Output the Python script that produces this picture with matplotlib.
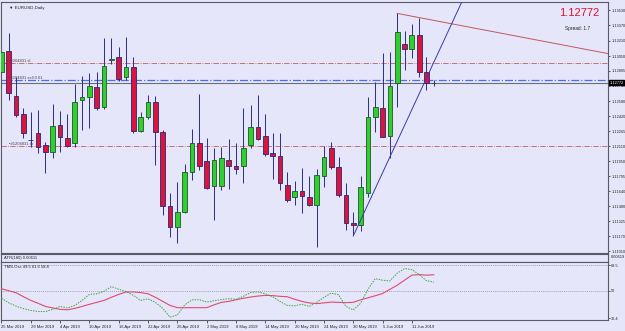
import matplotlib
matplotlib.use('Agg')
import matplotlib.pyplot as plt
import numpy as np

plt.rcParams['font.family'] = ['Liberation Sans', 'DejaVu Sans']

symbol_title = "EURUSD,Daily"
date_labels = ["25 Mar 2019", "29 Mar 2019", "4 Apr 2019", "10 Apr 2019", "16 Apr 2019",
               "22 Apr 2019", "26 Apr 2019", "2 May 2019", "8 May 2019", "14 May 2019",
               "20 May 2019", "24 May 2019", "30 May 2019", "5 Jun 2019", "11 Jun 2019"]

opens = [1.12886, 1.13105, 1.12632, 1.12444, 1.12178, 1.12251, 1.12121, 1.12047, 1.12330, 1.12194,
         1.12142, 1.12591, 1.12622, 1.12726, 1.12517, 1.13008, 1.13040, 1.12826, 1.12935, 1.12272,
         1.12408, 1.12570, 1.12256, 1.11484, 1.11264, 1.11421, 1.11839, 1.12142, 1.11954, 1.11692,
         1.11692, 1.11964, 1.11901, 1.11901, 1.12121, 1.12309, 1.12215, 1.12037, 1.12006, 1.11703,
         1.11577, 1.11640, 1.11577, 1.11494, 1.11797, 1.12089, 1.11891, 1.11598, 1.11306, 1.11285,
         1.11619, 1.12413, 1.12507, 1.12215, 1.12768, 1.13175, 1.13123, 1.13269, 1.12883, 1.12768]
highs = [1.13269, 1.13290, 1.12831, 1.12507, 1.12465, 1.12486, 1.12152, 1.12549, 1.12476, 1.12444,
         1.12758, 1.12841, 1.12873, 1.12883, 1.13238, 1.13238, 1.13144, 1.13249, 1.13040, 1.12465,
         1.12643, 1.12632, 1.12277, 1.11619, 1.11734, 1.11922, 1.12288, 1.12653, 1.12194, 1.12089,
         1.12100, 1.12183, 1.12142, 1.12507, 1.12538, 1.12643, 1.12444, 1.12246, 1.12246, 1.11839,
         1.11745, 1.11880, 1.11797, 1.11870, 1.12110, 1.12152, 1.11995, 1.11724, 1.11421, 1.11797,
         1.12622, 1.12779, 1.13081, 1.13097, 1.13499, 1.13311, 1.13384, 1.13447, 1.13040, 1.12800]
lows = [1.12852, 1.12590, 1.12413, 1.12194, 1.12100, 1.12037, 1.11828, 1.11985, 1.12047, 1.12100,
        1.12100, 1.12277, 1.12298, 1.12486, 1.12497, 1.12967, 1.12789, 1.12799, 1.12246, 1.12256,
        1.12392, 1.11912, 1.11389, 1.11160, 1.11097, 1.11410, 1.11755, 1.11859, 1.11661, 1.11337,
        1.11651, 1.11661, 1.11818, 1.11724, 1.12089, 1.12173, 1.12006, 1.11765, 1.11651, 1.11525,
        1.11494, 1.11410, 1.11484, 1.11055, 1.11682, 1.11870, 1.11577, 1.11233, 1.11181, 1.11222,
        1.11577, 1.12256, 1.12204, 1.11990, 1.12517, 1.12904, 1.13029, 1.12831, 1.12695, 1.12740]
closes = [1.13095, 1.12661, 1.12434, 1.12241, 1.12170, 1.12100, 1.12047, 1.12324, 1.12204, 1.12115,
          1.12570, 1.12622, 1.12737, 1.12507, 1.12946, 1.13014, 1.12805, 1.12935, 1.12267, 1.12413,
          1.12570, 1.12259, 1.11484, 1.11264, 1.11416, 1.11839, 1.12142, 1.11901, 1.11671, 1.11964,
          1.11985, 1.11901, 1.11870, 1.12089, 1.12309, 1.12183, 1.12027, 1.12006, 1.11724, 1.11546,
          1.11640, 1.11588, 1.11494, 1.11807, 1.11995, 1.11891, 1.11598, 1.11306, 1.11285, 1.11682,
          1.12413, 1.12517, 1.12204, 1.12737, 1.13301, 1.13123, 1.13269, 1.12883, 1.12768, 1.12772]

tms_red = [51.6, 50.2, 48.7, 45.9, 43.3, 41.2, 39.0, 37.9, 36.9, 36.6,
           37.6, 39.0, 40.5, 41.9, 43.3, 45.5, 47.6, 49.3, 49.3, 48.9,
           48.0, 45.5, 42.6, 39.7, 38.1, 38.1, 38.1, 38.1, 38.1, 40.1,
           41.9, 42.6, 43.7, 44.8, 45.7, 46.4, 46.9, 46.7, 46.2, 45.9,
           44.1, 42.6, 41.5, 41.0, 41.5, 42.1, 41.9, 41.7, 41.9, 43.7,
           45.1, 46.6, 48.2, 51.2, 54.1, 57.7, 61.3, 61.7, 61.3, 61.6]
tms_green = [44.8, 41.5, 39.2, 37.4, 36.1, 35.4, 35.3, 36.9, 39.0, 37.9,
             39.7, 43.3, 47.6, 48.0, 49.8, 53.2, 51.2, 49.6, 46.9, 43.3,
             44.4, 41.9, 37.6, 31.3, 32.9, 40.1, 43.7, 43.8, 42.1, 43.0,
             43.9, 44.5, 44.1, 46.2, 48.9, 49.4, 48.0, 45.9, 42.6, 39.7,
             39.4, 40.5, 39.0, 41.9, 45.5, 48.5, 47.3, 39.0, 36.5, 41.2,
             51.2, 58.8, 57.7, 57.2, 62.7, 66.0, 65.3, 61.7, 57.4, 56.3]

price_ticks = [1.13530, 1.13370, 1.13210, 1.13050, 1.12895, 1.12740, 1.12580, 1.12420, 1.12265,
               1.12110, 1.11950, 1.11795, 1.11640, 1.11480, 1.11325, 1.11170, 1.11010]
tms_levels = [68.5, 50.0, 30.4]

bid_price = 1.12772
spread_text = "Spread: 1.7"
order_sl = 1.12980
order_open = 1.12800
order_tp = 1.12110
order_labels = ["#204831 sl", "#204831 sell 0.01", "#1204831 tp"]
trend_red_x = [54, 82.8]
trend_red_y = [1.13495, 1.13075]
trend_blue_x = [48, 63]
trend_blue_y = [1.11170, 1.13645]
atr_label = "ATR(180) 0.00611"
atr_right = "0.00619"
tms_label = "TMS-Osc 49.5 61.6 58.8"

BG = '#e6e6fa'
SP = '#5a5a66'
W, H = 625, 331
fig = plt.figure(figsize=(W / 100, H / 100), dpi=100, facecolor=BG)

def box(x0, y0, x1, y1):
    return [x0 / W, 1 - y1 / H, (x1 - x0) / W, (y1 - y0) / H]

ax = fig.add_axes(box(1.5, 2, 608, 253))
ax_atr = fig.add_axes(box(1.5, 254, 608, 262), sharex=ax)
ax_tms = fig.add_axes(box(1.5, 262, 608, 320), sharex=ax)

for a in (ax, ax_atr, ax_tms):
    a.set_facecolor(BG)
    for s in a.spines.values():
        s.set_color(SP)
        s.set_linewidth(0.8)

n = len(opens)
xs = np.arange(n)
o = np.array(opens); c = np.array(closes); h = np.array(highs); l = np.array(lows)
up = c >= o

ax.vlines(xs, l, h, color='#2c2c90', linewidth=0.7, zorder=2)
bw = 0.64
ax.bar(xs[up], np.maximum(c[up] - o[up], 0.00003), bottom=o[up], width=bw,
       color='#32cd32', edgecolor='#1d5a1d', linewidth=0.6, zorder=3)
ax.bar(xs[~up], np.maximum(o[~up] - c[~up], 0.00003), bottom=c[~up], width=bw,
       color='#dc143c', edgecolor='#26267a', linewidth=0.6, zorder=3)

# order lines
ax.axhline(order_sl, color='#c0605a', linestyle='-.', linewidth=0.6, zorder=1)
ax.axhline(order_tp, color='#c0605a', linestyle='-.', linewidth=0.6, zorder=1)
ax.axhline(order_open, color='#4a6ef0', linestyle='-.', linewidth=0.9, zorder=1)
ax.axhline(bid_price, color='#6e6e7a', linestyle='-', linewidth=0.8, zorder=1)

# trend lines
ax.plot(trend_red_x, trend_red_y, color='#c05858', linewidth=0.7, zorder=4)
ax.plot(trend_blue_x, trend_blue_y, color='#3a3aa8', linewidth=0.7, zorder=4)

ax.set_xlim(0.03, 82.77)
ax.set_ylim(1.10993, 1.13614)

# labels of orders
for yv, lab in zip([order_sl, order_open, order_tp], order_labels):
    ax.text(1.0, yv, "\u25aa" + lab, fontsize=3.0, color='#444455', va='bottom', ha='left', zorder=5)

ax.text(0.012, 0.985, "\u25bc " + symbol_title, transform=ax.transAxes, fontsize=3.2,
        color='#222222', va='top', ha='left')
ax.text(0.985, 0.975, "%.5f" % bid_price, transform=ax.transAxes, fontsize=8, color='#e0102a',
        va='top', ha='right')
ax.text(0.97, 0.905, spread_text, transform=ax.transAxes, fontsize=3.4, color='#222222',
        va='top', ha='right')

ax.yaxis.tick_right()
ax.set_yticks(price_ticks)
ax.set_yticklabels(["%.5f" % v for v in price_ticks])
ax.tick_params(axis='y', labelsize=2.8, length=1.5, width=0.5, pad=0.8, colors='#222222')
ax.tick_params(axis='x', bottom=False, labelbottom=False)
ax.text(1.002, bid_price, "%.5f" % bid_price, transform=ax.get_yaxis_transform(),
        fontsize=2.8, color='white', va='center', ha='left',
        bbox=dict(boxstyle='square,pad=0.12', fc='black', ec='black'), zorder=6, clip_on=False)

# ATR panel
ax_atr.set_yticks([])
ax_atr.tick_params(axis='x', bottom=False, labelbottom=False)
ax_atr.text(0.004, 0.5, atr_label, transform=ax_atr.transAxes, fontsize=3.0, color='#222222',
            va='center', ha='left')
ax_atr.text(1.004, 0.6, atr_right, transform=ax_atr.transAxes, fontsize=2.8, color='#222222',
            va='center', ha='left', clip_on=False)

# TMS panel
for lv in tms_levels[:2]:
    ax_tms.axhline(lv, color='#8a8a96', linestyle=(0, (1.5, 1.5)), linewidth=0.5, zorder=1)
ax_tms.plot(xs, tms_red, color='#e04a72', linewidth=0.8, zorder=3)
ax_tms.plot(xs, tms_green, color='#3aa83a', linewidth=0.7, linestyle=(0, (1.5, 1.2)), zorder=3)
ax_tms.set_ylim(29.3, 70.7)
ax_tms.yaxis.tick_right()
ax_tms.set_yticks(tms_levels)
ax_tms.set_yticklabels(["68.5", "50", "30.4"])
ax_tms.tick_params(axis='y', labelsize=2.8, length=1.5, width=0.5, pad=0.8, colors='#222222')
ax_tms.text(0.004, 0.95, tms_label, transform=ax_tms.transAxes, fontsize=3.0, color='#222222',
            va='top', ha='left')
ax_tms.set_xticks(np.arange(0, 4 * len(date_labels), 4))
ax_tms.set_xticklabels(date_labels, ha='left')
ax_tms.tick_params(axis='x', labelsize=3.0, length=2, width=0.5, pad=1.5, colors='#222222')

fig.savefig('out.png', dpi=100, facecolor=BG)
